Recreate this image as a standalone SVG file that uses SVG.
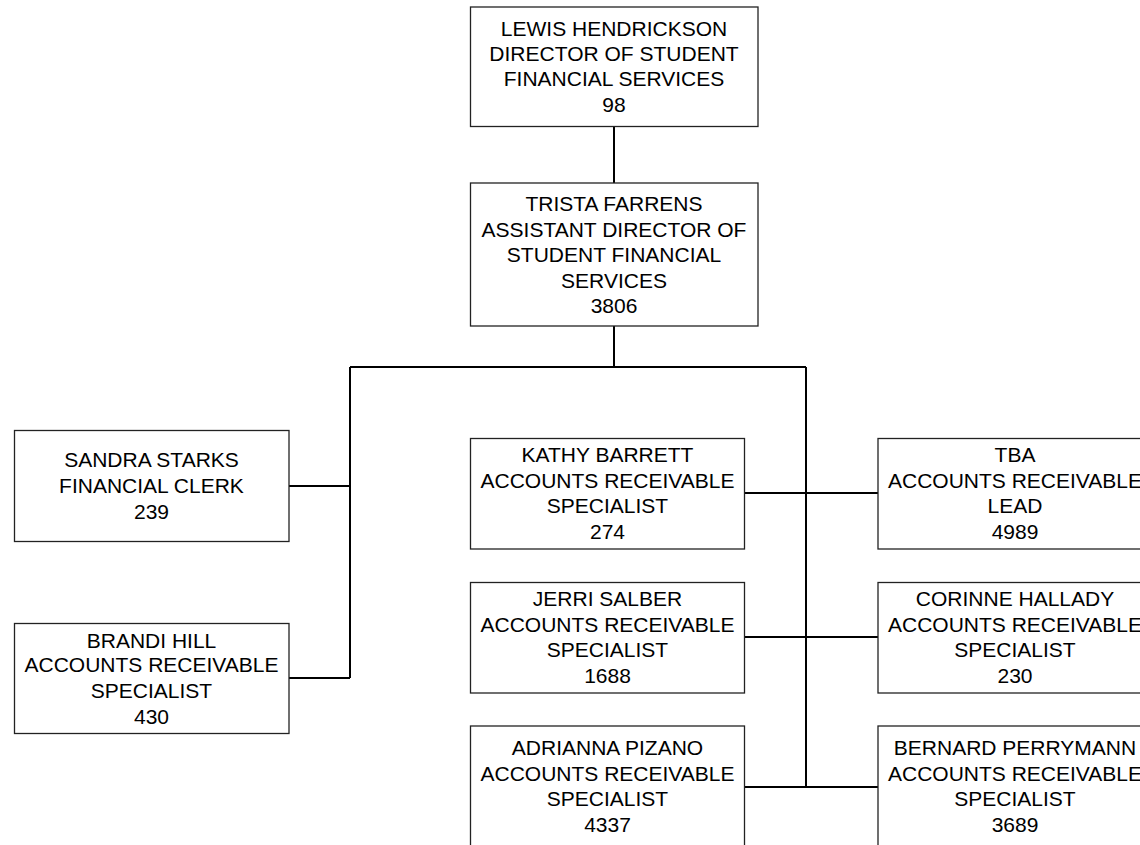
<svg xmlns="http://www.w3.org/2000/svg" width="1140" height="845" viewBox="0 0 1140 845">
<style>
.box{fill:#fff;stroke:#222;stroke-width:1.3}
.t{font-family:"Liberation Sans",Arial,sans-serif;font-size:21px;fill:#000;text-anchor:middle}
.c{stroke:#000;stroke-width:2;fill:none}
</style>
<rect width="1140" height="845" fill="#fff"/>
<g id="connectors">
<path class="c" d="M614 126V183M614 326V367M350 367H806M350 367V678M289 486H350M289 678H350M806 367V787M744 493H878M744 637H878M744 787H878"/>
</g>
<g id="n-lewis"><rect class="box" x="470.5" y="7" width="287.5" height="119.5"/>
<text class="t" x="614" y="36">LEWIS HENDRICKSON</text><text class="t" x="614" y="61">DIRECTOR OF STUDENT</text><text class="t" x="614" y="86">FINANCIAL SERVICES</text><text class="t" x="614" y="111.5">98</text></g>
<g id="n-trista"><rect class="box" x="470.5" y="183" width="287.5" height="143"/>
<text class="t" x="614" y="211">TRISTA FARRENS</text><text class="t" x="614" y="236.5">ASSISTANT DIRECTOR OF</text><text class="t" x="614" y="262">STUDENT FINANCIAL</text><text class="t" x="614" y="287.5">SERVICES</text><text class="t" x="614" y="313">3806</text></g>
<g id="n-sandra"><rect class="box" x="14.5" y="430.5" width="274.5" height="111"/>
<text class="t" x="151.5" y="467">SANDRA STARKS</text><text class="t" x="151.5" y="492.5">FINANCIAL CLERK</text><text class="t" x="151.5" y="518.5">239</text></g>
<g id="n-brandi"><rect class="box" x="14.5" y="623.5" width="274.5" height="110"/>
<text class="t" x="151.5" y="648">BRANDI HILL</text><text class="t" x="151.5" y="672">ACCOUNTS RECEIVABLE</text><text class="t" x="151.5" y="698">SPECIALIST</text><text class="t" x="151.5" y="723.5">430</text></g>
<g id="n-kathy"><rect class="box" x="470.5" y="438.5" width="274" height="110.5"/>
<text class="t" x="607.5" y="462">KATHY BARRETT</text><text class="t" x="607.5" y="488">ACCOUNTS RECEIVABLE</text><text class="t" x="607.5" y="513">SPECIALIST</text><text class="t" x="607.5" y="539">274</text></g>
<g id="n-jerri"><rect class="box" x="470.5" y="582.5" width="274" height="110.5"/>
<text class="t" x="607.5" y="606">JERRI SALBER</text><text class="t" x="607.5" y="631.5">ACCOUNTS RECEIVABLE</text><text class="t" x="607.5" y="656.5">SPECIALIST</text><text class="t" x="607.5" y="682.5">1688</text></g>
<g id="n-adrianna"><rect class="box" x="470.5" y="726" width="274" height="130"/>
<text class="t" x="607.5" y="755">ADRIANNA PIZANO</text><text class="t" x="607.5" y="781">ACCOUNTS RECEIVABLE</text><text class="t" x="607.5" y="806">SPECIALIST</text><text class="t" x="607.5" y="831.5">4337</text></g>
<g id="n-tba"><rect class="box" x="878" y="438.5" width="274" height="110.5"/>
<text class="t" x="1015" y="462">TBA</text><text class="t" x="1015" y="488">ACCOUNTS RECEIVABLE</text><text class="t" x="1015" y="513">LEAD</text><text class="t" x="1015" y="539">4989</text></g>
<g id="n-corinne"><rect class="box" x="878" y="582.5" width="274" height="110.5"/>
<text class="t" x="1015" y="606">CORINNE HALLADY</text><text class="t" x="1015" y="631.5">ACCOUNTS RECEIVABLE</text><text class="t" x="1015" y="656.5">SPECIALIST</text><text class="t" x="1015" y="682.5">230</text></g>
<g id="n-bernard"><rect class="box" x="878" y="726" width="274" height="130"/>
<text class="t" x="1015" y="755">BERNARD PERRYMANN</text><text class="t" x="1015" y="781">ACCOUNTS RECEIVABLE</text><text class="t" x="1015" y="806">SPECIALIST</text><text class="t" x="1015" y="831.5">3689</text></g>
</svg>
